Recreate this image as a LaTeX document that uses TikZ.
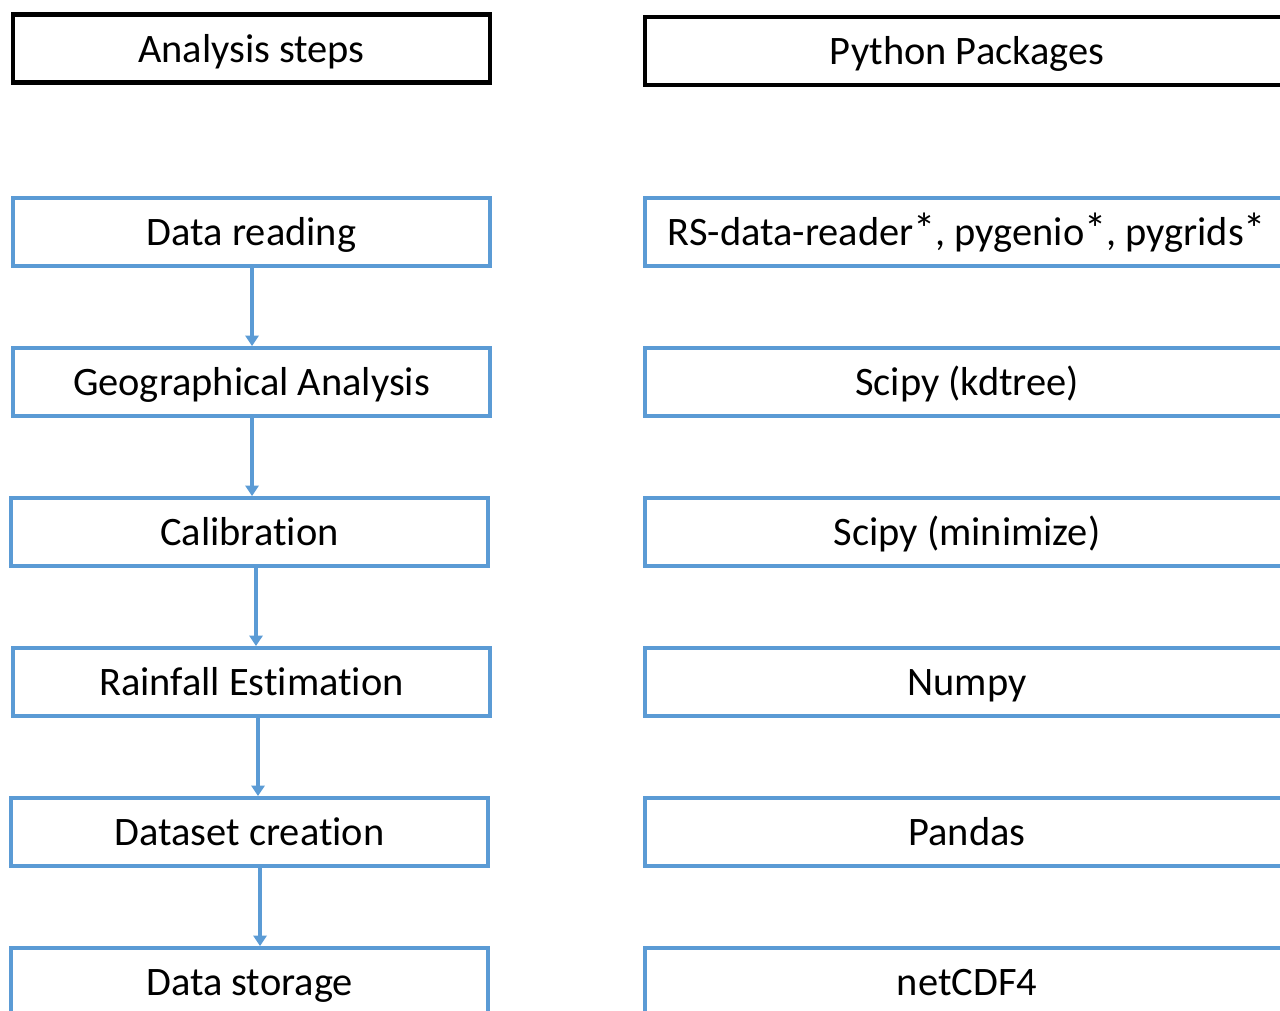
\documentclass[tikz,border=0pt]{standalone}
\usepackage{fontspec}
\setmainfont{Carlito}[Ligatures=CommonOff]
\usetikzlibrary{arrows.meta}

\definecolor{stepblue}{HTML}{5B9BD5}
\newcommand\starmark{\raisebox{0.04em}{\scalebox{1.1}{*}}}

\tikzset{
  headbox/.style={draw=black, line width=2.4pt, minimum height=1.36cm, inner sep=0pt, text height=18.5pt, text depth=3pt},
  stepbox/.style={draw=stepblue, line width=2.2pt, minimum width=9.54cm, minimum height=1.36cm, inner sep=0pt, text height=18.5pt, text depth=3pt},
  pkgbox/.style={stepbox, minimum width=12.88cm},
  flow/.style={draw=stepblue, line width=2.2pt, -{Triangle[width=7.5pt,length=6pt]}}
}

\begin{document}
\begin{tikzpicture}[x=0.02cm, y=-0.02cm, font=\fontsize{23}{27}\selectfont]
  \useasboundingbox (0,0) rectangle (1280,1010);
  \begin{scope}
  \clip (0,0) rectangle (1280,1010);
  %% headers
  \node[headbox, minimum width=9.54cm] (steps) at (251.5,48.5) {Analysis steps};
  \node[headbox, minimum width=12.88cm] (pkgs) at (967,51) {Python Packages};
  \foreach \i/\x/\y/\what/\pkg in {1/251.5/232/Data reading/{RS-data-reader\starmark, pygenio\starmark, pygrids\starmark},
                                   2/251.5/382/Geographical Analysis/Scipy (kdtree),
                                   3/249.5/532/Calibration/Scipy (minimize),
                                   4/251.5/682/Rainfall Estimation/Numpy,
                                   5/249.5/832/Dataset creation/Pandas,
                                   6/249.5/982/Data storage/netCDF4} { %for each row of the chart
    \node[stepbox] (step\i) at (\x,\y) {\what};
    \node[pkgbox] (pkg\i) at (967,\y) {\pkg};
  }
  \foreach \i/\dx in {1/0.3pt,2/0.3pt,3/3.7pt,4/3.7pt,5/6pt} {  %arrows between the steps
    \pgfmathtruncatemacro{\j}{\i+1}
    \draw[flow] ([xshift=\dx]step\i.south) -- ([xshift=\dx]step\i.south |- step\j.north);
  }
  \end{scope}
\end{tikzpicture}
\end{document}
